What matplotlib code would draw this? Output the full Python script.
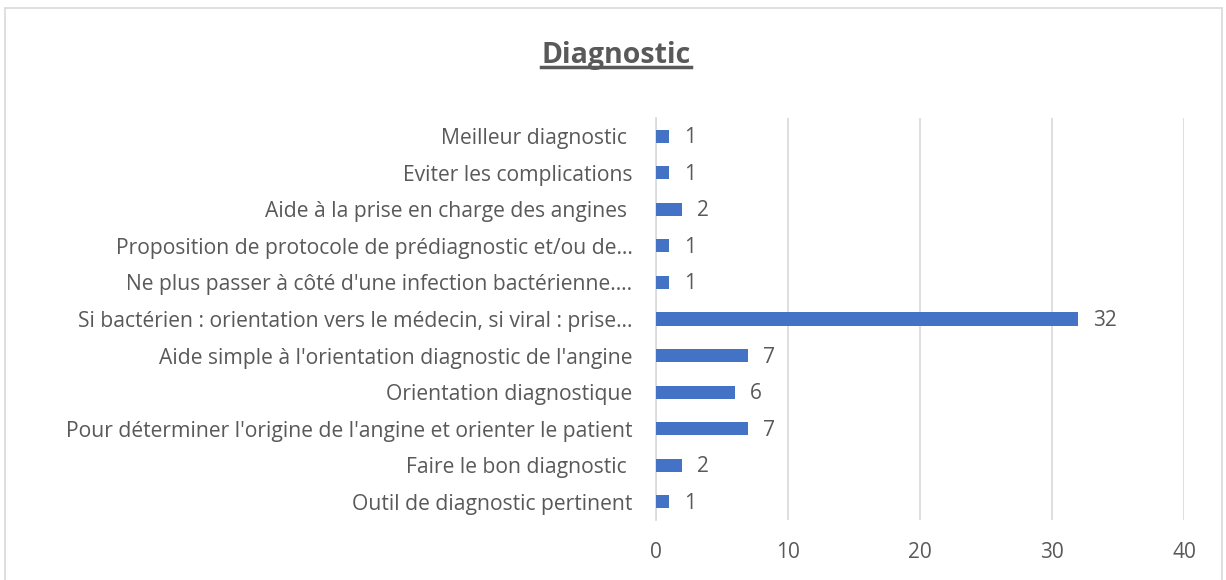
import matplotlib.pyplot as plt
from matplotlib.patches import Rectangle
from matplotlib.lines import Line2D

plt.rcParams['font.family'] = ['Open Sans', 'DejaVu Sans']

labels = [
    "Outil de diagnostic pertinent",
    "Faire le bon diagnostic ",
    "Pour déterminer l'origine de l'angine et orienter le patient",
    "Orientation diagnostique",
    "Aide simple à l'orientation diagnostic de l'angine",
    "Si bactérien : orientation vers le médecin, si viral : prise…",
    "Ne plus passer à côté d'une infection bactérienne.…",
    "Proposition de protocole de prédiagnostic et/ou de…",
    "Aide à la prise en charge des angines ",
    "Eviter les complications",
    "Meilleur diagnostic ",
]
values = [1, 2, 7, 6, 7, 32, 1, 1, 2, 1, 1]
xticks = [0, 10, 20, 30, 40]

text_color = '#595959'
bar_color = '#4472C4'
grid_color = '#D9D9D9'

fig = plt.figure(figsize=(12.26, 5.8), dpi=100)
ax = fig.add_axes([656 / 1226, 1 - 520 / 580, (1184 - 656) / 1226, (520 - 118) / 580])

pos = list(range(len(labels)))
ax.barh(pos, values, height=0.36, color=bar_color, zorder=3)
for p, v in zip(pos, values):
    ax.text(v + 1.1, p - 0.04, str(v), va='center', ha='left', fontsize=15, color=text_color)

ax.set_xlim(0, 40)
ax.set_ylim(-0.5, len(labels) - 0.5)
ax.set_xticks(xticks)
ax.set_yticks(pos)
ax.set_yticklabels(labels, fontsize=15.2, color=text_color)
ax.tick_params(axis='x', length=0, pad=16, labelsize=15, labelcolor=text_color)
ax.tick_params(axis='y', length=0, pad=17)
ax.xaxis.grid(True, color=grid_color, linewidth=1.2, zorder=0)
for s in ['top', 'right', 'bottom']:
    ax.spines[s].set_visible(False)
ax.spines['left'].set_color(grid_color)
ax.spines['left'].set_linewidth(1.2)

# outer chart border
fig.patches.append(Rectangle((5 / 1226, -0.05), 1217 / 1226, 1 - 8 / 580 + 0.05,
                             transform=fig.transFigure, fill=False,
                             edgecolor=grid_color, linewidth=1.2))

title = fig.text(616 / 1226, 1 - 55 / 580, "Diagnostic", ha='center', va='center',
                 fontsize=20.5, fontweight='bold', color=text_color)
fig.canvas.draw()
bb = title.get_window_extent(fig.canvas.get_renderer())
inv = fig.transFigure.inverted()
(x0, y0), (x1, y1) = inv.transform([(bb.x0, bb.y0), (bb.x1, bb.y1)])
fig.lines.append(Line2D([x0, x1], [y0 + 0.004, y0 + 0.004], transform=fig.transFigure,
                        color=text_color, linewidth=2.5))

fig.savefig('out.png', dpi=100)
